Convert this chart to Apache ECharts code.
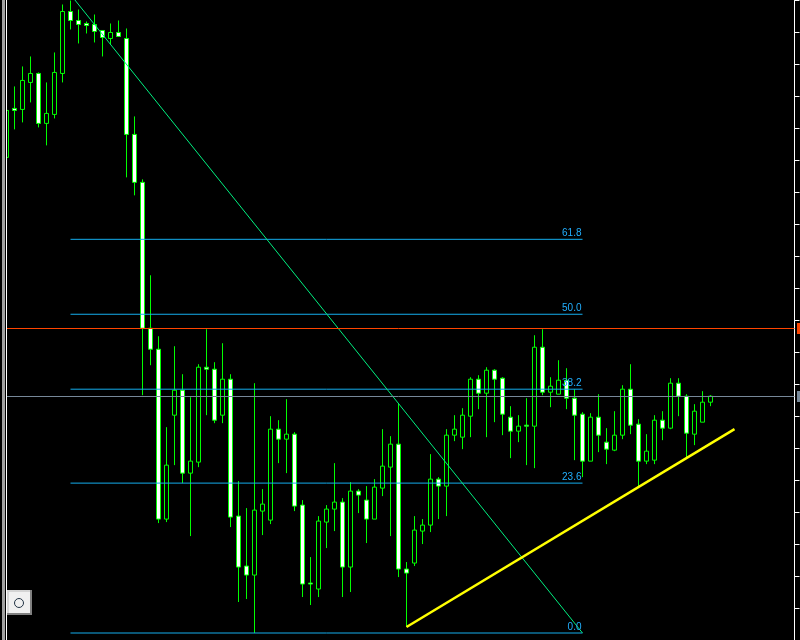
<!DOCTYPE html>
<html>
<head>
    <meta charset="utf-8">
    <title>Candlestick</title>
    <style>
        html, body { margin: 0; padding: 0; background: #000; }
        #chart { width: 800px; height: 640px; }
    </style>
</head>
<body>
<div id="chart"></div>
<script src="https://cdn.jsdelivr.net/npm/echarts@6/dist/echarts.min.js"></script>
<script>
    // one entry per bar, price scale
    var opens = [483, 532, 531, 558, 567, 517, 526, 567, 629, 620, 617, 616, 610, 602, 608, 602, 506, 458, 312, 291,
        121, 225, 250, 167, 178, 273, 271, 225, 261, 124, 74, 65, 129, 120, 211, 201, 206, 135, 57, 51,
        118, 131, 138, 73, 149, 140, 121, 152, 173, 196, 71, 77, 109, 115, 161, 154, 205, 203, 224, 261,
        247, 270, 262, 223, 209, 215, 214, 293, 248, 246, 260, 242, 226, 179, 223, 198, 190, 205, 251, 216,
        179, 180, 220, 212, 257, 244, 206, 218, 238];
    var closes = [530, 530, 560, 567, 517, 527, 568, 629, 620, 616, 615, 609, 603, 608, 604, 506, 458, 312, 291, 121,
        175, 250, 167, 179, 273, 271, 220, 261, 123, 73, 65, 130, 136, 211, 201, 206, 134, 56, 56, 119,
        131, 138, 73, 149, 145, 121, 153, 174, 196, 71, 67, 110, 115, 161, 154, 205, 211, 225, 261, 247,
        270, 261, 226, 209, 214, 214, 293, 248, 254, 260, 242, 225, 179, 223, 205, 191, 205, 251, 215, 179,
        189, 220, 212, 257, 244, 207, 229, 238, 244];
    var lows = [483, 511, 518, 538, 513, 495, 522, 558, 611, 597, 607, 598, 584, 596, 604, 463, 445, 245, 275, 117,
        118, 175, 157, 104, 173, 225, 217, 217, 113, 38, 41, 7, 105, 116, 177, 167, 129, 43, 35, 43,
        92, 109, 43, 48, 127, 97, 121, 144, 104, 63, 13, 74, 96, 108, 121, 124, 199, 191, 203, 231,
        203, 218, 205, 182, 198, 175, 172, 245, 233, 246, 231, 180, 163, 179, 188, 176, 189, 201, 206, 153,
        176, 176, 200, 211, 224, 183, 195, 218, 234];
    var highs = [530, 554, 574, 584, 568, 558, 588, 636, 640, 631, 619, 626, 610, 617, 620, 612, 524, 461, 365, 304,
        213, 294, 266, 243, 276, 311, 278, 297, 266, 159, 132, 257, 151, 224, 220, 241, 208, 140, 83, 124,
        135, 177, 142, 158, 151, 154, 161, 211, 204, 237, 78, 124, 121, 186, 163, 211, 225, 232, 263, 265,
        273, 271, 263, 234, 225, 242, 305, 311, 263, 280, 272, 251, 228, 227, 246, 212, 229, 255, 276, 221,
        206, 225, 229, 262, 262, 246, 236, 249, 245];

    var barCount = 99;

    // fibonacci levels, spanning bars 8 to 72
    var fibLabels = ['61.8', '50.0', '38.2', '23.6', '0.0'];
    var fibPrices = [401, 326, 251, 157, 7];
    var fibFrom = 8;
    var fibTo = 72;

    // lines drawn on the chart: [bar, price]
    var fibTrend = [[8, 646], [72, 7]];
    var supportLine = [[50, 13], [91, 211]];
    var redLevel = 312;
    var greyLevel = 244;

    var categories = [];
    for (var i = 0; i < barCount; i++) {
        categories.push(String(i));
    }

    var candles = opens.map(function (o, i) {
        return [o, closes[i], lows[i], highs[i]];
    });

    function lineSeries(points, color, width) {
        return {
            type: 'line',
            data: points,
            showSymbol: false,
            symbol: 'none',
            silent: true,
            lineStyle: { color: color, width: width, cap: 'butt' }
        };
    }

    var series = [{
        type: 'candlestick',
        data: candles,
        barWidth: 4,
        silent: true,
        itemStyle: {
            color: '#000000',
            color0: '#ffffff',
            borderColor: '#00ff00',
            borderColor0: '#00ff00',
            borderWidth: 1
        },
        // the two level lines run the full width of the plot
        markLine: {
            silent: true,
            animation: false,
            symbol: ['none', 'none'],
            label: { show: false },
            data: [
                { yAxis: redLevel, lineStyle: { color: '#ff4500', width: 1, type: 'solid' } },
                { yAxis: greyLevel, lineStyle: { color: '#778899', width: 1, type: 'solid' } }
            ]
        }
    }];

    fibPrices.forEach(function (p, i) {
        var s = lineSeries([[fibFrom, p], [fibTo, p]], '#14aeee', 1);
        s.endLabel = {
            show: true,
            formatter: fibLabels[i],
            color: '#22b0ff',
            fontFamily: 'Liberation Sans',
            fontSize: 10,
            align: 'right',
            verticalAlign: 'middle',
            distance: 0,
            offset: [-1, -6]
        };
        series.push(s);
    });
    series.push(lineSeries(fibTrend, '#00f080', 1));
    series.push(lineSeries(supportLine, '#ffff00', 2.5));

    var chart = echarts.init(document.getElementById('chart'), null, { renderer: 'canvas' });
    chart.setOption({
        animation: false,
        backgroundColor: '#000000',
        grid: { left: 2.5, width: 792, top: 0.5, height: 640 },
        xAxis: { type: 'category', data: categories, show: false },
        yAxis: {
            type: 'value',
            position: 'right',
            min: 0,
            max: 640,
            interval: 32,
            axisLabel: { show: false },
            splitLine: { show: false },
            axisLine: { show: true, onZero: false, lineStyle: { color: '#ffffff', width: 1 } },
            axisTick: { show: true, length: 5, lineStyle: { color: '#ffffff', width: 1 } }
        },
        // window frame, price handles and the small button
        graphic: [
            { type: 'rect', z: 100, shape: { x: 0, y: 0, width: 6, height: 640 }, style: { fill: '#000000' } },
            { type: 'rect', z: 101, shape: { x: 2, y: 0, width: 3, height: 640 }, style: { fill: '#a0a0a0' } },
            { type: 'rect', z: 101, shape: { x: 6, y: 0, width: 1, height: 640 }, style: { fill: '#ffffff' } },
            { type: 'rect', z: 101, shape: { x: 797, y: 323, width: 3, height: 11 }, style: { fill: '#ff4500' } },
            { type: 'rect', z: 101, shape: { x: 797, y: 391, width: 3, height: 11 }, style: { fill: '#778899' } },
            { type: 'rect', z: 102, shape: { x: 7, y: 590, width: 25, height: 25 }, style: { fill: '#808080' } },
            { type: 'rect', z: 103, shape: { x: 7, y: 590, width: 23, height: 23 }, style: { fill: '#d4d4d4' } },
            { type: 'rect', z: 104, shape: { x: 9, y: 592, width: 21, height: 21 }, style: { fill: '#f0f0f0' } },
            { type: 'circle', z: 105, shape: { cx: 19, cy: 603, r: 4.5 }, style: { fill: 'none', stroke: '#223344', lineWidth: 1 } }
        ],
        series: series
    });
</script>
</body>
</html>
